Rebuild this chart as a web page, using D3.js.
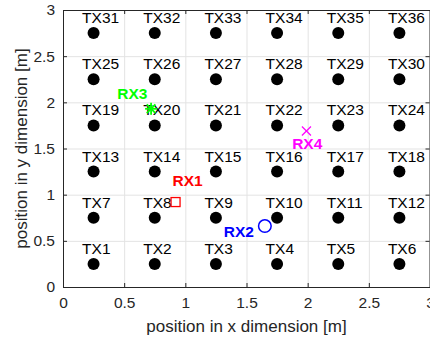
<!DOCTYPE html>
<html><head><meta charset="utf-8">
<script src="https://cdn.jsdelivr.net/npm/d3@7"></script>
<style>body{margin:0;background:#fff}svg{display:block}text{font-family:"Liberation Sans",Arial,sans-serif}</style>
</head><body>
<script>
const txLabels = ["TX1","TX2","TX3","TX4","TX5","TX6","TX7","TX8","TX9","TX10","TX11","TX12",
 "TX13","TX14","TX15","TX16","TX17","TX18","TX19","TX20","TX21","TX22","TX23","TX24",
 "TX25","TX26","TX27","TX28","TX29","TX30","TX31","TX32","TX33","TX34","TX35","TX36"];
const txX = [0.25,0.75,1.25,1.75,2.25,2.75, 0.25,0.75,1.25,1.75,2.25,2.75,
 0.25,0.75,1.25,1.75,2.25,2.75, 0.25,0.75,1.25,1.75,2.25,2.75,
 0.25,0.75,1.25,1.75,2.25,2.75, 0.25,0.75,1.25,1.75,2.25,2.75];
const txY = [0.25,0.25,0.25,0.25,0.25,0.25, 0.75,0.75,0.75,0.75,0.75,0.75,
 1.25,1.25,1.25,1.25,1.25,1.25, 1.75,1.75,1.75,1.75,1.75,1.75,
 2.25,2.25,2.25,2.25,2.25,2.25, 2.75,2.75,2.75,2.75,2.75,2.75];
const rxLabels = ["RX1","RX2","RX3","RX4"];
const rxX = [0.92, 1.65, 0.72, 1.99];
const rxY = [0.92, 0.66, 1.93, 1.69];
const rxColors = ["#ff0000","#0000ff","#00ff00","#ff00ff"];
const rxMarkers = ["square","circle","star","cross"];
const tickValues = [0,0.5,1,1.5,2,2.5,3];
const tickLabels = ["0","0.5","1","1.5","2","2.5","3"];
const xTitle = "position in x dimension [m]";
const yTitle = "position in y dimension [m]";

const W=430,H=343;
const L=63,R=430,T=10,B=287;
const svg=d3.select("body").append("svg").attr("width",W).attr("height",H);
svg.append("rect").attr("width",W).attr("height",H).attr("fill","#fff");
const x=d3.scaleLinear().domain([0,3]).range([L,R]);
const y=d3.scaleLinear().domain([0,3]).range([B,T]);

// grid
const g=svg.append("g");
g.selectAll(".gx").data(tickValues).join("line")
 .attr("x1",d=>x(d)+0.5).attr("x2",d=>x(d)+0.5).attr("y1",T).attr("y2",B)
 .attr("stroke","#e3e3e3").attr("stroke-width",1);
g.selectAll(".gy").data(tickValues).join("line")
 .attr("y1",d=>y(d)+0.5).attr("y2",d=>y(d)+0.5).attr("x1",L).attr("x2",R)
 .attr("stroke","#e3e3e3").attr("stroke-width",1);

const fmt=(d,i)=>tickLabels[i];
const axColor="#262626";
function styleAxis(sel,hide){
  sel.select(".domain").attr("stroke",axColor);
  sel.selectAll(".tick line").attr("stroke",axColor);
  sel.selectAll(".tick text").attr("fill",axColor).style("font-size","15.5px")
    .style("font-family","Liberation Sans, Arial, sans-serif");
  if(hide) sel.selectAll(".tick text").remove();
}
svg.append("g").attr("transform",`translate(0,${B})`)
 .call(d3.axisBottom(x).tickValues(tickValues).tickFormat(fmt).tickSizeInner(-4).tickSizeOuter(0).tickPadding(10))
 .call(s=>styleAxis(s,false));
svg.append("g").attr("transform",`translate(${L},0)`)
 .call(d3.axisLeft(y).tickValues(tickValues).tickFormat(fmt).tickSizeInner(-4).tickSizeOuter(0).tickPadding(8))
 .call(s=>styleAxis(s,false));
svg.append("g").attr("transform",`translate(0,${T})`)
 .call(d3.axisTop(x).tickValues(tickValues).tickSizeInner(-4).tickSizeOuter(0))
 .call(s=>styleAxis(s,true));
svg.append("g").attr("transform",`translate(${R-0.5},0)`)
 .call(d3.axisRight(y).tickValues(tickValues).tickSizeInner(-4).tickSizeOuter(0))
 .call(s=>styleAxis(s,true));

// TX
const tx=txLabels.map((l,i)=>({l,x:txX[i],y:txY[i]}));
svg.selectAll(".dot").data(tx).join("circle")
 .attr("cx",d=>x(d.x)).attr("cy",d=>y(d.y)).attr("r",6).attr("fill","#000");
svg.selectAll(".txl").data(tx).join("text")
 .attr("x",d=>x(d.x)-11.5).attr("y",d=>y(d.y)-10)
 .attr("font-size",15.5).attr("fill","#000").text(d=>d.l);

// RX
const off=[[12,-16.5],[-26,10.7],[-18.7,-9.3],[0.8,17.6]];
const rx=rxLabels.map((l,i)=>({l,x:rxX[i],y:rxY[i],c:rxColors[i],m:rxMarkers[i],o:off[i]}));
rx.forEach(d=>{
  const cx=x(d.x),cy=y(d.y);
  const gg=svg.append("g").attr("fill","none").attr("stroke",d.c);
  if(d.m==="square") gg.append("rect").attr("x",cx-4.5).attr("y",cy-4.5).attr("width",9).attr("height",9).attr("stroke-width",1.3);
  if(d.m==="circle") gg.append("circle").attr("cx",cx).attr("cy",cy).attr("r",6.3).attr("stroke-width",1.5);
  if(d.m==="star"){
    const s=6;
    [[s,0],[0,s],[s*0.72,s*0.72],[s*0.72,-s*0.72]].forEach(([a,b])=>
      gg.append("line").attr("x1",cx-a).attr("y1",cy-b).attr("x2",cx+a).attr("y2",cy+b).attr("stroke-width",1.8));
  }
  if(d.m==="cross"){
    const s=4.5;
    [[s,s],[s,-s]].forEach(([a,b])=>
      gg.append("line").attr("x1",cx-a).attr("y1",cy-b).attr("x2",cx+a).attr("y2",cy+b).attr("stroke-width",1.2));
  }
  svg.append("text").attr("x",cx+d.o[0]).attr("y",cy+d.o[1]).attr("text-anchor","middle")
   .attr("font-size",15.5).attr("font-weight","bold").attr("fill",d.c).text(d.l);
});

// titles
svg.append("text").attr("x",(L+R)/2).attr("y",332).attr("text-anchor","middle")
 .attr("font-size",17).attr("fill",axColor).text(xTitle);
svg.append("text").attr("transform",`translate(27,${(T+B)/2}) rotate(-90)`).attr("text-anchor","middle")
 .attr("font-size",17).attr("fill",axColor).text(yTitle);
</script>
</body></html>
